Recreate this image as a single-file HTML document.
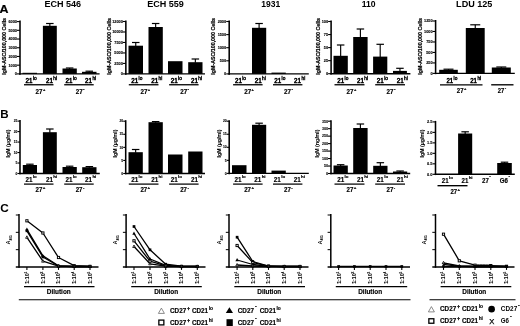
<!DOCTYPE html>
<html><head><meta charset="utf-8"><title>Figure</title>
<style>
html,body{margin:0;padding:0;background:#fff;}
body{width:520px;height:326px;overflow:hidden;}
svg{display:block;font-family:"Liberation Sans", sans-serif;fill:#000;filter:blur(0.3px);}
svg text{font-family:"Liberation Sans", sans-serif;}
</style></head><body>
<svg width="520" height="326" viewBox="0 0 520 326">
<rect x="0" y="0" width="520" height="326" fill="#fff"/>
<rect x="22.5" y="72.8" width="14.5" height="1.1" fill="#000"/>
<line x1="49.85" y1="23.5" x2="49.85" y2="26.3" stroke="#000" stroke-width="1.15"/>
<line x1="46.1" y1="23.5" x2="53.6" y2="23.5" stroke="#000" stroke-width="1.2"/>
<rect x="42.9" y="25.8" width="13.9" height="48.1" fill="#000"/>
<line x1="69.65" y1="68" x2="69.65" y2="69" stroke="#000" stroke-width="1.15"/>
<line x1="65.9" y1="68" x2="73.4" y2="68" stroke="#000" stroke-width="1.2"/>
<rect x="62.5" y="68.5" width="14.3" height="5.4" fill="#000"/>
<line x1="89.25" y1="71.2" x2="89.25" y2="72.3" stroke="#000" stroke-width="1.15"/>
<line x1="85.5" y1="71.2" x2="93" y2="71.2" stroke="#000" stroke-width="1.2"/>
<rect x="82" y="71.8" width="14.5" height="2.1" fill="#000"/>
<line x1="20" y1="20.6" x2="20" y2="74.68" stroke="#000" stroke-width="1.55"/>
<line x1="19.23" y1="73.9" x2="99.6" y2="73.9" stroke="#000" stroke-width="1.4"/>
<line x1="17" y1="21.6" x2="20" y2="21.6" stroke="#000" stroke-width="1.1"/>
<text x="16.9" y="22.97" font-size="3.8" font-weight="bold" text-anchor="end" stroke="#000" stroke-width="0.12">6000</text>
<line x1="17" y1="30.32" x2="20" y2="30.32" stroke="#000" stroke-width="1.1"/>
<text x="16.9" y="31.68" font-size="3.8" font-weight="bold" text-anchor="end" stroke="#000" stroke-width="0.12">5000</text>
<line x1="17" y1="39.03" x2="20" y2="39.03" stroke="#000" stroke-width="1.1"/>
<text x="16.9" y="40.4" font-size="3.8" font-weight="bold" text-anchor="end" stroke="#000" stroke-width="0.12">4000</text>
<line x1="17" y1="47.75" x2="20" y2="47.75" stroke="#000" stroke-width="1.1"/>
<text x="16.9" y="49.12" font-size="3.8" font-weight="bold" text-anchor="end" stroke="#000" stroke-width="0.12">3000</text>
<line x1="17" y1="56.47" x2="20" y2="56.47" stroke="#000" stroke-width="1.1"/>
<text x="16.9" y="57.83" font-size="3.8" font-weight="bold" text-anchor="end" stroke="#000" stroke-width="0.12">2000</text>
<line x1="17" y1="65.18" x2="20" y2="65.18" stroke="#000" stroke-width="1.1"/>
<text x="16.9" y="66.55" font-size="3.8" font-weight="bold" text-anchor="end" stroke="#000" stroke-width="0.12">1000</text>
<line x1="17" y1="73.9" x2="20" y2="73.9" stroke="#000" stroke-width="1.1"/>
<text x="16.9" y="75.27" font-size="3.8" font-weight="bold" text-anchor="end" stroke="#000" stroke-width="0.12">0</text>
<text x="6.01" y="46.3" font-size="5.3" font-weight="bold" text-anchor="middle" transform="rotate(-90 6.01 46.3)" textLength="56.7" lengthAdjust="spacingAndGlyphs" stroke="#000" stroke-width="0.2">IgM-ASC/100,000 Cells</text>
<text x="62.75" y="7" font-size="8.8" font-weight="bold" text-anchor="middle" textLength="36.7" lengthAdjust="spacingAndGlyphs">ECH 546</text>
<text x="25.5" y="82.9" font-size="6.5" font-weight="normal" text-anchor="start" stroke="#000" stroke-width="0.5" textLength="7" lengthAdjust="spacingAndGlyphs">21</text>
<text x="32.9" y="79.8" font-size="4.8" font-weight="normal" text-anchor="start" stroke="#000" stroke-width="0.36">lo</text>
<text x="45.9" y="82.9" font-size="6.5" font-weight="normal" text-anchor="start" stroke="#000" stroke-width="0.5" textLength="7" lengthAdjust="spacingAndGlyphs">21</text>
<text x="53.3" y="79.8" font-size="4.8" font-weight="normal" text-anchor="start" stroke="#000" stroke-width="0.36">hi</text>
<text x="65.5" y="82.9" font-size="6.5" font-weight="normal" text-anchor="start" stroke="#000" stroke-width="0.5" textLength="7" lengthAdjust="spacingAndGlyphs">21</text>
<text x="72.9" y="79.8" font-size="4.8" font-weight="normal" text-anchor="start" stroke="#000" stroke-width="0.36">lo</text>
<text x="85" y="82.9" font-size="6.5" font-weight="normal" text-anchor="start" stroke="#000" stroke-width="0.5" textLength="7" lengthAdjust="spacingAndGlyphs">21</text>
<text x="92.4" y="79.8" font-size="4.8" font-weight="normal" text-anchor="start" stroke="#000" stroke-width="0.36">hi</text>
<line x1="24" y1="84.75" x2="53.5" y2="84.75" stroke="#000" stroke-width="1.3"/>
<line x1="64.2" y1="84.75" x2="93.7" y2="84.75" stroke="#000" stroke-width="1.3"/>
<text x="35.5" y="93.8" font-size="6.7" font-weight="bold" text-anchor="start" stroke="#000" stroke-width="0.18" textLength="7" lengthAdjust="spacingAndGlyphs">27</text>
<text x="42.9" y="90.6" font-size="4.0" font-weight="bold" text-anchor="start" stroke="#000" stroke-width="0.2">+</text>
<text x="75.7" y="93.8" font-size="6.7" font-weight="bold" text-anchor="start" stroke="#000" stroke-width="0.18" textLength="7" lengthAdjust="spacingAndGlyphs">27</text>
<text x="83.1" y="91" font-size="4.6" font-weight="bold" text-anchor="start" stroke="#000" stroke-width="0.2">-</text>
<line x1="135.75" y1="42.5" x2="135.75" y2="46.2" stroke="#000" stroke-width="1.15"/>
<line x1="132" y1="42.5" x2="139.5" y2="42.5" stroke="#000" stroke-width="1.2"/>
<rect x="128.5" y="45.7" width="14.5" height="28.2" fill="#000"/>
<line x1="155.65" y1="23.5" x2="155.65" y2="27.5" stroke="#000" stroke-width="1.15"/>
<line x1="151.9" y1="23.5" x2="159.4" y2="23.5" stroke="#000" stroke-width="1.2"/>
<rect x="148.5" y="27" width="14.3" height="46.9" fill="#000"/>
<rect x="168" y="61.2" width="14.5" height="12.7" fill="#000"/>
<line x1="195.35" y1="59" x2="195.35" y2="62.7" stroke="#000" stroke-width="1.15"/>
<line x1="191.6" y1="59" x2="199.1" y2="59" stroke="#000" stroke-width="1.2"/>
<rect x="188.2" y="62.2" width="14.3" height="11.7" fill="#000"/>
<line x1="125.85" y1="20.5" x2="125.85" y2="74.68" stroke="#000" stroke-width="1.55"/>
<line x1="125.07" y1="73.9" x2="205" y2="73.9" stroke="#000" stroke-width="1.4"/>
<line x1="122.85" y1="21.5" x2="125.85" y2="21.5" stroke="#000" stroke-width="1.1"/>
<text x="122.75" y="22.87" font-size="3.8" font-weight="bold" text-anchor="end" stroke="#000" stroke-width="0.12">12000</text>
<line x1="122.85" y1="31.98" x2="125.85" y2="31.98" stroke="#000" stroke-width="1.1"/>
<text x="122.75" y="33.35" font-size="3.8" font-weight="bold" text-anchor="end" stroke="#000" stroke-width="0.12">10000</text>
<line x1="122.85" y1="42.46" x2="125.85" y2="42.46" stroke="#000" stroke-width="1.1"/>
<text x="122.75" y="43.83" font-size="3.8" font-weight="bold" text-anchor="end" stroke="#000" stroke-width="0.12">7500</text>
<line x1="122.85" y1="52.94" x2="125.85" y2="52.94" stroke="#000" stroke-width="1.1"/>
<text x="122.75" y="54.31" font-size="3.8" font-weight="bold" text-anchor="end" stroke="#000" stroke-width="0.12">5000</text>
<line x1="122.85" y1="63.42" x2="125.85" y2="63.42" stroke="#000" stroke-width="1.1"/>
<text x="122.75" y="64.79" font-size="3.8" font-weight="bold" text-anchor="end" stroke="#000" stroke-width="0.12">2500</text>
<line x1="122.85" y1="73.9" x2="125.85" y2="73.9" stroke="#000" stroke-width="1.1"/>
<text x="122.75" y="75.27" font-size="3.8" font-weight="bold" text-anchor="end" stroke="#000" stroke-width="0.12">0</text>
<text x="110.91" y="46.3" font-size="5.3" font-weight="bold" text-anchor="middle" transform="rotate(-90 110.91 46.3)" textLength="56.7" lengthAdjust="spacingAndGlyphs" stroke="#000" stroke-width="0.2">IgM-ASC/100,000 Cells</text>
<text x="165.55" y="7" font-size="8.8" font-weight="bold" text-anchor="middle" textLength="36.7" lengthAdjust="spacingAndGlyphs">ECH 559</text>
<text x="131.2" y="82.9" font-size="6.5" font-weight="normal" text-anchor="start" stroke="#000" stroke-width="0.5" textLength="7" lengthAdjust="spacingAndGlyphs">21</text>
<text x="138.6" y="79.8" font-size="4.8" font-weight="normal" text-anchor="start" stroke="#000" stroke-width="0.36">lo</text>
<text x="151.2" y="82.9" font-size="6.5" font-weight="normal" text-anchor="start" stroke="#000" stroke-width="0.5" textLength="7" lengthAdjust="spacingAndGlyphs">21</text>
<text x="158.6" y="79.8" font-size="4.8" font-weight="normal" text-anchor="start" stroke="#000" stroke-width="0.36">hi</text>
<text x="170.7" y="82.9" font-size="6.5" font-weight="normal" text-anchor="start" stroke="#000" stroke-width="0.5" textLength="7" lengthAdjust="spacingAndGlyphs">21</text>
<text x="178.1" y="79.8" font-size="4.8" font-weight="normal" text-anchor="start" stroke="#000" stroke-width="0.36">lo</text>
<text x="190.9" y="82.9" font-size="6.5" font-weight="normal" text-anchor="start" stroke="#000" stroke-width="0.5" textLength="7" lengthAdjust="spacingAndGlyphs">21</text>
<text x="198.3" y="79.8" font-size="4.8" font-weight="normal" text-anchor="start" stroke="#000" stroke-width="0.36">hi</text>
<line x1="128.8" y1="84.75" x2="158.5" y2="84.75" stroke="#000" stroke-width="1.3"/>
<line x1="169.1" y1="84.75" x2="198.6" y2="84.75" stroke="#000" stroke-width="1.3"/>
<text x="140.4" y="93.8" font-size="6.7" font-weight="bold" text-anchor="start" stroke="#000" stroke-width="0.18" textLength="7" lengthAdjust="spacingAndGlyphs">27</text>
<text x="147.8" y="90.6" font-size="4.0" font-weight="bold" text-anchor="start" stroke="#000" stroke-width="0.2">+</text>
<text x="180.2" y="93.8" font-size="6.7" font-weight="bold" text-anchor="start" stroke="#000" stroke-width="0.18" textLength="7" lengthAdjust="spacingAndGlyphs">27</text>
<text x="187.6" y="91" font-size="4.6" font-weight="bold" text-anchor="start" stroke="#000" stroke-width="0.2">-</text>
<line x1="259.1" y1="23.5" x2="259.1" y2="28.3" stroke="#000" stroke-width="1.15"/>
<line x1="255.35" y1="23.5" x2="262.85" y2="23.5" stroke="#000" stroke-width="1.2"/>
<rect x="252" y="27.8" width="14.2" height="46.1" fill="#000"/>
<rect x="271.5" y="72.6" width="14.3" height="1.3" fill="#000"/>
<line x1="229.2" y1="20.5" x2="229.2" y2="74.68" stroke="#000" stroke-width="1.55"/>
<line x1="228.42" y1="73.9" x2="308.8" y2="73.9" stroke="#000" stroke-width="1.4"/>
<line x1="226.2" y1="21.5" x2="229.2" y2="21.5" stroke="#000" stroke-width="1.1"/>
<text x="226.1" y="22.87" font-size="3.8" font-weight="bold" text-anchor="end" stroke="#000" stroke-width="0.12">2000</text>
<line x1="226.2" y1="34.6" x2="229.2" y2="34.6" stroke="#000" stroke-width="1.1"/>
<text x="226.1" y="35.97" font-size="3.8" font-weight="bold" text-anchor="end" stroke="#000" stroke-width="0.12">1500</text>
<line x1="226.2" y1="47.7" x2="229.2" y2="47.7" stroke="#000" stroke-width="1.1"/>
<text x="226.1" y="49.07" font-size="3.8" font-weight="bold" text-anchor="end" stroke="#000" stroke-width="0.12">1000</text>
<line x1="226.2" y1="60.8" x2="229.2" y2="60.8" stroke="#000" stroke-width="1.1"/>
<text x="226.1" y="62.17" font-size="3.8" font-weight="bold" text-anchor="end" stroke="#000" stroke-width="0.12">500</text>
<line x1="226.2" y1="73.9" x2="229.2" y2="73.9" stroke="#000" stroke-width="1.1"/>
<text x="226.1" y="75.27" font-size="3.8" font-weight="bold" text-anchor="end" stroke="#000" stroke-width="0.12">0</text>
<text x="215.11" y="46.3" font-size="5.3" font-weight="bold" text-anchor="middle" transform="rotate(-90 215.11 46.3)" textLength="56.7" lengthAdjust="spacingAndGlyphs" stroke="#000" stroke-width="0.2">IgM-ASC/100,000 Cells</text>
<text x="270.8" y="7" font-size="8.8" font-weight="bold" text-anchor="middle" textLength="19" lengthAdjust="spacingAndGlyphs">1931</text>
<text x="234.9" y="82.9" font-size="6.5" font-weight="normal" text-anchor="start" stroke="#000" stroke-width="0.5" textLength="7" lengthAdjust="spacingAndGlyphs">21</text>
<text x="242.3" y="79.8" font-size="4.8" font-weight="normal" text-anchor="start" stroke="#000" stroke-width="0.36">lo</text>
<text x="254.7" y="82.9" font-size="6.5" font-weight="normal" text-anchor="start" stroke="#000" stroke-width="0.5" textLength="7" lengthAdjust="spacingAndGlyphs">21</text>
<text x="262.1" y="79.8" font-size="4.8" font-weight="normal" text-anchor="start" stroke="#000" stroke-width="0.36">hi</text>
<text x="274.2" y="82.9" font-size="6.5" font-weight="normal" text-anchor="start" stroke="#000" stroke-width="0.5" textLength="7" lengthAdjust="spacingAndGlyphs">21</text>
<text x="281.6" y="79.8" font-size="4.8" font-weight="normal" text-anchor="start" stroke="#000" stroke-width="0.36">lo</text>
<text x="294.1" y="82.9" font-size="6.5" font-weight="normal" text-anchor="start" stroke="#000" stroke-width="0.5" textLength="7" lengthAdjust="spacingAndGlyphs">21</text>
<text x="301.5" y="79.8" font-size="4.8" font-weight="normal" text-anchor="start" stroke="#000" stroke-width="0.36">hi</text>
<line x1="233.1" y1="84.75" x2="262.6" y2="84.75" stroke="#000" stroke-width="1.3"/>
<line x1="273" y1="84.75" x2="302.4" y2="84.75" stroke="#000" stroke-width="1.3"/>
<text x="244.2" y="93.8" font-size="6.7" font-weight="bold" text-anchor="start" stroke="#000" stroke-width="0.18" textLength="7" lengthAdjust="spacingAndGlyphs">27</text>
<text x="251.6" y="90.6" font-size="4.0" font-weight="bold" text-anchor="start" stroke="#000" stroke-width="0.2">+</text>
<text x="284" y="93.8" font-size="6.7" font-weight="bold" text-anchor="start" stroke="#000" stroke-width="0.18" textLength="7" lengthAdjust="spacingAndGlyphs">27</text>
<text x="291.4" y="91" font-size="4.6" font-weight="bold" text-anchor="start" stroke="#000" stroke-width="0.2">-</text>
<line x1="340.65" y1="45" x2="340.65" y2="56.3" stroke="#000" stroke-width="1.15"/>
<line x1="336.9" y1="45" x2="344.4" y2="45" stroke="#000" stroke-width="1.2"/>
<rect x="333.5" y="55.8" width="14.3" height="17.9" fill="#000"/>
<line x1="360.4" y1="29" x2="360.4" y2="37.5" stroke="#000" stroke-width="1.15"/>
<line x1="356.65" y1="29" x2="364.15" y2="29" stroke="#000" stroke-width="1.2"/>
<rect x="353.2" y="37" width="14.4" height="36.7" fill="#000"/>
<line x1="380.2" y1="44.3" x2="380.2" y2="57.1" stroke="#000" stroke-width="1.15"/>
<line x1="376.45" y1="44.3" x2="383.95" y2="44.3" stroke="#000" stroke-width="1.2"/>
<rect x="373.1" y="56.6" width="14.2" height="17.1" fill="#000"/>
<line x1="399.95" y1="68.3" x2="399.95" y2="71.4" stroke="#000" stroke-width="1.15"/>
<line x1="396.2" y1="68.3" x2="403.7" y2="68.3" stroke="#000" stroke-width="1.2"/>
<rect x="393" y="70.9" width="13.9" height="2.8" fill="#000"/>
<line x1="331.1" y1="20.5" x2="331.1" y2="74.48" stroke="#000" stroke-width="1.55"/>
<line x1="330.33" y1="73.7" x2="410.4" y2="73.7" stroke="#000" stroke-width="1.4"/>
<line x1="328.1" y1="21.5" x2="331.1" y2="21.5" stroke="#000" stroke-width="1.1"/>
<text x="328" y="22.87" font-size="3.8" font-weight="bold" text-anchor="end" stroke="#000" stroke-width="0.12">100</text>
<line x1="328.1" y1="34.55" x2="331.1" y2="34.55" stroke="#000" stroke-width="1.1"/>
<text x="328" y="35.92" font-size="3.8" font-weight="bold" text-anchor="end" stroke="#000" stroke-width="0.12">75</text>
<line x1="328.1" y1="47.6" x2="331.1" y2="47.6" stroke="#000" stroke-width="1.1"/>
<text x="328" y="48.97" font-size="3.8" font-weight="bold" text-anchor="end" stroke="#000" stroke-width="0.12">50</text>
<line x1="328.1" y1="60.65" x2="331.1" y2="60.65" stroke="#000" stroke-width="1.1"/>
<text x="328" y="62.02" font-size="3.8" font-weight="bold" text-anchor="end" stroke="#000" stroke-width="0.12">25</text>
<line x1="328.1" y1="73.7" x2="331.1" y2="73.7" stroke="#000" stroke-width="1.1"/>
<text x="328" y="75.07" font-size="3.8" font-weight="bold" text-anchor="end" stroke="#000" stroke-width="0.12">0</text>
<text x="319.91" y="46.3" font-size="5.3" font-weight="bold" text-anchor="middle" transform="rotate(-90 319.91 46.3)" textLength="56.7" lengthAdjust="spacingAndGlyphs" stroke="#000" stroke-width="0.2">IgM-ASC/100,000 Cells</text>
<text x="368.7" y="7" font-size="8.8" font-weight="bold" text-anchor="middle" textLength="13.9" lengthAdjust="spacingAndGlyphs">110</text>
<text x="337.2" y="82.9" font-size="6.5" font-weight="normal" text-anchor="start" stroke="#000" stroke-width="0.5" textLength="7" lengthAdjust="spacingAndGlyphs">21</text>
<text x="344.6" y="79.8" font-size="4.8" font-weight="normal" text-anchor="start" stroke="#000" stroke-width="0.36">lo</text>
<text x="356.9" y="82.9" font-size="6.5" font-weight="normal" text-anchor="start" stroke="#000" stroke-width="0.5" textLength="7" lengthAdjust="spacingAndGlyphs">21</text>
<text x="364.3" y="79.8" font-size="4.8" font-weight="normal" text-anchor="start" stroke="#000" stroke-width="0.36">hi</text>
<text x="376.8" y="82.9" font-size="6.5" font-weight="normal" text-anchor="start" stroke="#000" stroke-width="0.5" textLength="7" lengthAdjust="spacingAndGlyphs">21</text>
<text x="384.2" y="79.8" font-size="4.8" font-weight="normal" text-anchor="start" stroke="#000" stroke-width="0.36">lo</text>
<text x="396.7" y="82.9" font-size="6.5" font-weight="normal" text-anchor="start" stroke="#000" stroke-width="0.5" textLength="7" lengthAdjust="spacingAndGlyphs">21</text>
<text x="404.1" y="79.8" font-size="4.8" font-weight="normal" text-anchor="start" stroke="#000" stroke-width="0.36">hi</text>
<line x1="334.5" y1="84.75" x2="364.5" y2="84.75" stroke="#000" stroke-width="1.3"/>
<line x1="375.2" y1="84.75" x2="405" y2="84.75" stroke="#000" stroke-width="1.3"/>
<text x="346.5" y="93.8" font-size="6.7" font-weight="bold" text-anchor="start" stroke="#000" stroke-width="0.18" textLength="7" lengthAdjust="spacingAndGlyphs">27</text>
<text x="353.9" y="90.6" font-size="4.0" font-weight="bold" text-anchor="start" stroke="#000" stroke-width="0.2">+</text>
<text x="386.5" y="93.8" font-size="6.7" font-weight="bold" text-anchor="start" stroke="#000" stroke-width="0.18" textLength="7" lengthAdjust="spacingAndGlyphs">27</text>
<text x="393.9" y="91" font-size="4.6" font-weight="bold" text-anchor="start" stroke="#000" stroke-width="0.2">-</text>
<line x1="448.5" y1="69.2" x2="448.5" y2="70.3" stroke="#000" stroke-width="1.15"/>
<line x1="443.5" y1="69.2" x2="453.5" y2="69.2" stroke="#000" stroke-width="1.2"/>
<rect x="439.2" y="69.8" width="18.6" height="3.6" fill="#000"/>
<line x1="475.25" y1="24.8" x2="475.25" y2="28.5" stroke="#000" stroke-width="1.15"/>
<line x1="470.25" y1="24.8" x2="480.25" y2="24.8" stroke="#000" stroke-width="1.2"/>
<rect x="465.8" y="28" width="18.9" height="45.4" fill="#000"/>
<line x1="501.3" y1="67" x2="501.3" y2="68" stroke="#000" stroke-width="1.15"/>
<line x1="496.3" y1="67" x2="506.3" y2="67" stroke="#000" stroke-width="1.2"/>
<rect x="491.8" y="67.5" width="19" height="5.9" fill="#000"/>
<line x1="435.6" y1="20" x2="435.6" y2="74.18" stroke="#000" stroke-width="1.55"/>
<line x1="434.83" y1="73.4" x2="514.8" y2="73.4" stroke="#000" stroke-width="1.4"/>
<line x1="432.6" y1="21" x2="435.6" y2="21" stroke="#000" stroke-width="1.1"/>
<text x="432.5" y="22.37" font-size="3.8" font-weight="bold" text-anchor="end" stroke="#000" stroke-width="0.12">1250</text>
<line x1="432.6" y1="31.48" x2="435.6" y2="31.48" stroke="#000" stroke-width="1.1"/>
<text x="432.5" y="32.85" font-size="3.8" font-weight="bold" text-anchor="end" stroke="#000" stroke-width="0.12">1000</text>
<line x1="432.6" y1="41.96" x2="435.6" y2="41.96" stroke="#000" stroke-width="1.1"/>
<text x="432.5" y="43.33" font-size="3.8" font-weight="bold" text-anchor="end" stroke="#000" stroke-width="0.12">750</text>
<line x1="432.6" y1="52.44" x2="435.6" y2="52.44" stroke="#000" stroke-width="1.1"/>
<text x="432.5" y="53.81" font-size="3.8" font-weight="bold" text-anchor="end" stroke="#000" stroke-width="0.12">500</text>
<line x1="432.6" y1="62.92" x2="435.6" y2="62.92" stroke="#000" stroke-width="1.1"/>
<text x="432.5" y="64.29" font-size="3.8" font-weight="bold" text-anchor="end" stroke="#000" stroke-width="0.12">250</text>
<line x1="432.6" y1="73.4" x2="435.6" y2="73.4" stroke="#000" stroke-width="1.1"/>
<text x="432.5" y="74.77" font-size="3.8" font-weight="bold" text-anchor="end" stroke="#000" stroke-width="0.12">0</text>
<text x="422.41" y="46.3" font-size="5.3" font-weight="bold" text-anchor="middle" transform="rotate(-90 422.41 46.3)" textLength="56.7" lengthAdjust="spacingAndGlyphs" stroke="#000" stroke-width="0.2">IgM-ASC/100,000 Cells</text>
<text x="474.25" y="7" font-size="8.8" font-weight="bold" text-anchor="middle" textLength="36.3" lengthAdjust="spacingAndGlyphs">LDU 125</text>
<text x="446.5" y="82.6" font-size="6.5" font-weight="normal" text-anchor="start" stroke="#000" stroke-width="0.5" textLength="6.7" lengthAdjust="spacingAndGlyphs">21</text>
<text x="453.6" y="79.5" font-size="4.8" font-weight="normal" text-anchor="start" stroke="#000" stroke-width="0.36">lo</text>
<text x="470.2" y="82.6" font-size="6.5" font-weight="normal" text-anchor="start" stroke="#000" stroke-width="0.5" textLength="6.8" lengthAdjust="spacingAndGlyphs">21</text>
<text x="477.4" y="79.5" font-size="4.8" font-weight="normal" text-anchor="start" stroke="#000" stroke-width="0.36">hi</text>
<line x1="440" y1="84.8" x2="482.5" y2="84.8" stroke="#000" stroke-width="1.35"/>
<line x1="491.2" y1="84.8" x2="513.5" y2="84.8" stroke="#000" stroke-width="1.35"/>
<text x="456.8" y="93.1" font-size="6.7" font-weight="bold" text-anchor="start" stroke="#000" stroke-width="0.18" textLength="6.8" lengthAdjust="spacingAndGlyphs">27</text>
<text x="464" y="89.9" font-size="4.0" font-weight="bold" text-anchor="start" stroke="#000" stroke-width="0.2">+</text>
<text x="497.8" y="93.1" font-size="6.7" font-weight="bold" text-anchor="start" stroke="#000" stroke-width="0.18" textLength="6.5" lengthAdjust="spacingAndGlyphs">27</text>
<text x="504.7" y="88.5" font-size="4.4" font-weight="bold" text-anchor="start" stroke="#000" stroke-width="0.2">-</text>
<line x1="29.9" y1="164.2" x2="29.9" y2="165.5" stroke="#000" stroke-width="1.15"/>
<line x1="26.15" y1="164.2" x2="33.65" y2="164.2" stroke="#000" stroke-width="1.2"/>
<rect x="22.8" y="165" width="14.2" height="8.5" fill="#000"/>
<line x1="49.85" y1="129" x2="49.85" y2="132.7" stroke="#000" stroke-width="1.15"/>
<line x1="46.1" y1="129" x2="53.6" y2="129" stroke="#000" stroke-width="1.2"/>
<rect x="42.9" y="132.2" width="13.9" height="41.3" fill="#000"/>
<line x1="69.65" y1="166.2" x2="69.65" y2="167.5" stroke="#000" stroke-width="1.15"/>
<line x1="65.9" y1="166.2" x2="73.4" y2="166.2" stroke="#000" stroke-width="1.2"/>
<rect x="62.5" y="167" width="14.3" height="6.5" fill="#000"/>
<line x1="89.35" y1="166.6" x2="89.35" y2="167.7" stroke="#000" stroke-width="1.15"/>
<line x1="85.6" y1="166.6" x2="93.1" y2="166.6" stroke="#000" stroke-width="1.2"/>
<rect x="82.2" y="167.2" width="14.3" height="6.3" fill="#000"/>
<line x1="20" y1="120.1" x2="20" y2="174.28" stroke="#000" stroke-width="1.55"/>
<line x1="19.23" y1="173.5" x2="99.8" y2="173.5" stroke="#000" stroke-width="1.4"/>
<line x1="17.5" y1="121.1" x2="20" y2="121.1" stroke="#000" stroke-width="1.1"/>
<text x="17.4" y="122.29" font-size="3.3" font-weight="bold" text-anchor="end" stroke="#000" stroke-width="0.08">25</text>
<line x1="17.5" y1="131.58" x2="20" y2="131.58" stroke="#000" stroke-width="1.1"/>
<text x="17.4" y="132.77" font-size="3.3" font-weight="bold" text-anchor="end" stroke="#000" stroke-width="0.08">20</text>
<line x1="17.5" y1="142.06" x2="20" y2="142.06" stroke="#000" stroke-width="1.1"/>
<text x="17.4" y="143.25" font-size="3.3" font-weight="bold" text-anchor="end" stroke="#000" stroke-width="0.08">15</text>
<line x1="17.5" y1="152.54" x2="20" y2="152.54" stroke="#000" stroke-width="1.1"/>
<text x="17.4" y="153.73" font-size="3.3" font-weight="bold" text-anchor="end" stroke="#000" stroke-width="0.08">10</text>
<line x1="17.5" y1="163.02" x2="20" y2="163.02" stroke="#000" stroke-width="1.1"/>
<text x="17.4" y="164.21" font-size="3.3" font-weight="bold" text-anchor="end" stroke="#000" stroke-width="0.08">5</text>
<line x1="17.5" y1="173.5" x2="20" y2="173.5" stroke="#000" stroke-width="1.1"/>
<text x="17.4" y="174.69" font-size="3.3" font-weight="bold" text-anchor="end" stroke="#000" stroke-width="0.08">0</text>
<text x="10.19" y="143.5" font-size="4.7" font-weight="bold" text-anchor="middle" transform="rotate(-90 10.19 143.5)" textLength="28" lengthAdjust="spacingAndGlyphs" stroke="#000" stroke-width="0.05">IgM (µg/ml)</text>
<text x="25.5" y="181.9" font-size="6.8" font-weight="bold" text-anchor="start" stroke="#000" stroke-width="0.18" textLength="7" lengthAdjust="spacingAndGlyphs">21</text>
<text x="32.9" y="178.2" font-size="4.4" font-weight="bold" text-anchor="start" stroke="#000" stroke-width="0.2">lo</text>
<text x="45.9" y="181.9" font-size="6.8" font-weight="bold" text-anchor="start" stroke="#000" stroke-width="0.18" textLength="7" lengthAdjust="spacingAndGlyphs">21</text>
<text x="53.3" y="178.2" font-size="4.4" font-weight="bold" text-anchor="start" stroke="#000" stroke-width="0.2">hi</text>
<text x="65.5" y="181.9" font-size="6.8" font-weight="bold" text-anchor="start" stroke="#000" stroke-width="0.18" textLength="7" lengthAdjust="spacingAndGlyphs">21</text>
<text x="72.9" y="178.2" font-size="4.4" font-weight="bold" text-anchor="start" stroke="#000" stroke-width="0.2">lo</text>
<text x="85" y="181.9" font-size="6.8" font-weight="bold" text-anchor="start" stroke="#000" stroke-width="0.18" textLength="7" lengthAdjust="spacingAndGlyphs">21</text>
<text x="92.4" y="178.2" font-size="4.4" font-weight="bold" text-anchor="start" stroke="#000" stroke-width="0.2">hi</text>
<line x1="24" y1="184.1" x2="53.5" y2="184.1" stroke="#000" stroke-width="1.25"/>
<line x1="64.2" y1="184.1" x2="93.7" y2="184.1" stroke="#000" stroke-width="1.25"/>
<text x="35.5" y="192.1" font-size="6.4" font-weight="bold" text-anchor="start" stroke="#000" stroke-width="0.18" textLength="6.8" lengthAdjust="spacingAndGlyphs">27</text>
<text x="42.7" y="188.9" font-size="4.4" font-weight="bold" text-anchor="start" stroke="#000" stroke-width="0.2">+</text>
<text x="75.7" y="192.1" font-size="6.4" font-weight="bold" text-anchor="start" stroke="#000" stroke-width="0.18" textLength="6.8" lengthAdjust="spacingAndGlyphs">27</text>
<text x="82.9" y="188.9" font-size="4.4" font-weight="bold" text-anchor="start" stroke="#000" stroke-width="0.2">-</text>
<line x1="135.65" y1="149.5" x2="135.65" y2="152.7" stroke="#000" stroke-width="1.15"/>
<line x1="131.9" y1="149.5" x2="139.4" y2="149.5" stroke="#000" stroke-width="1.2"/>
<rect x="128.5" y="152.2" width="14.3" height="21.3" fill="#000"/>
<line x1="155.65" y1="121.6" x2="155.65" y2="122.7" stroke="#000" stroke-width="1.15"/>
<line x1="151.9" y1="121.6" x2="159.4" y2="121.6" stroke="#000" stroke-width="1.2"/>
<rect x="148.5" y="122.2" width="14.3" height="51.3" fill="#000"/>
<rect x="168" y="154.5" width="14.5" height="19" fill="#000"/>
<rect x="188.2" y="151.5" width="14.3" height="22" fill="#000"/>
<line x1="125.7" y1="120.2" x2="125.7" y2="174.28" stroke="#000" stroke-width="1.55"/>
<line x1="124.92" y1="173.5" x2="205" y2="173.5" stroke="#000" stroke-width="1.4"/>
<line x1="123.2" y1="121.2" x2="125.7" y2="121.2" stroke="#000" stroke-width="1.1"/>
<text x="123.1" y="122.39" font-size="3.3" font-weight="bold" text-anchor="end" stroke="#000" stroke-width="0.08">20</text>
<line x1="123.2" y1="134.28" x2="125.7" y2="134.28" stroke="#000" stroke-width="1.1"/>
<text x="123.1" y="135.46" font-size="3.3" font-weight="bold" text-anchor="end" stroke="#000" stroke-width="0.08">15</text>
<line x1="123.2" y1="147.35" x2="125.7" y2="147.35" stroke="#000" stroke-width="1.1"/>
<text x="123.1" y="148.54" font-size="3.3" font-weight="bold" text-anchor="end" stroke="#000" stroke-width="0.08">10</text>
<line x1="123.2" y1="160.43" x2="125.7" y2="160.43" stroke="#000" stroke-width="1.1"/>
<text x="123.1" y="161.61" font-size="3.3" font-weight="bold" text-anchor="end" stroke="#000" stroke-width="0.08">5</text>
<line x1="123.2" y1="173.5" x2="125.7" y2="173.5" stroke="#000" stroke-width="1.1"/>
<text x="123.1" y="174.69" font-size="3.3" font-weight="bold" text-anchor="end" stroke="#000" stroke-width="0.08">0</text>
<text x="116.69" y="143.5" font-size="4.7" font-weight="bold" text-anchor="middle" transform="rotate(-90 116.69 143.5)" textLength="28" lengthAdjust="spacingAndGlyphs" stroke="#000" stroke-width="0.05">IgM (µg/ml)</text>
<text x="131.2" y="181.9" font-size="6.8" font-weight="bold" text-anchor="start" stroke="#000" stroke-width="0.18" textLength="7" lengthAdjust="spacingAndGlyphs">21</text>
<text x="138.6" y="178.2" font-size="4.4" font-weight="bold" text-anchor="start" stroke="#000" stroke-width="0.2">lo</text>
<text x="151.2" y="181.9" font-size="6.8" font-weight="bold" text-anchor="start" stroke="#000" stroke-width="0.18" textLength="7" lengthAdjust="spacingAndGlyphs">21</text>
<text x="158.6" y="178.2" font-size="4.4" font-weight="bold" text-anchor="start" stroke="#000" stroke-width="0.2">hi</text>
<text x="170.7" y="181.9" font-size="6.8" font-weight="bold" text-anchor="start" stroke="#000" stroke-width="0.18" textLength="7" lengthAdjust="spacingAndGlyphs">21</text>
<text x="178.1" y="178.2" font-size="4.4" font-weight="bold" text-anchor="start" stroke="#000" stroke-width="0.2">lo</text>
<text x="190.9" y="181.9" font-size="6.8" font-weight="bold" text-anchor="start" stroke="#000" stroke-width="0.18" textLength="7" lengthAdjust="spacingAndGlyphs">21</text>
<text x="198.3" y="178.2" font-size="4.4" font-weight="bold" text-anchor="start" stroke="#000" stroke-width="0.2">hi</text>
<line x1="128.8" y1="184.1" x2="158.5" y2="184.1" stroke="#000" stroke-width="1.25"/>
<line x1="169.1" y1="184.1" x2="198.6" y2="184.1" stroke="#000" stroke-width="1.25"/>
<text x="140.4" y="192.1" font-size="6.4" font-weight="bold" text-anchor="start" stroke="#000" stroke-width="0.18" textLength="6.8" lengthAdjust="spacingAndGlyphs">27</text>
<text x="147.6" y="188.9" font-size="4.4" font-weight="bold" text-anchor="start" stroke="#000" stroke-width="0.2">+</text>
<text x="180.2" y="192.1" font-size="6.4" font-weight="bold" text-anchor="start" stroke="#000" stroke-width="0.18" textLength="6.8" lengthAdjust="spacingAndGlyphs">27</text>
<text x="187.4" y="188.9" font-size="4.4" font-weight="bold" text-anchor="start" stroke="#000" stroke-width="0.2">-</text>
<rect x="232" y="165.2" width="14.5" height="8.2" fill="#000"/>
<line x1="259.1" y1="123.2" x2="259.1" y2="125.3" stroke="#000" stroke-width="1.15"/>
<line x1="255.35" y1="123.2" x2="262.85" y2="123.2" stroke="#000" stroke-width="1.2"/>
<rect x="252" y="124.8" width="14.2" height="48.6" fill="#000"/>
<rect x="271.5" y="170.6" width="14.3" height="2.8" fill="#000"/>
<line x1="229.2" y1="120.2" x2="229.2" y2="174.18" stroke="#000" stroke-width="1.55"/>
<line x1="228.42" y1="173.4" x2="308.8" y2="173.4" stroke="#000" stroke-width="1.4"/>
<line x1="226.7" y1="121.2" x2="229.2" y2="121.2" stroke="#000" stroke-width="1.1"/>
<text x="226.6" y="122.39" font-size="3.3" font-weight="bold" text-anchor="end" stroke="#000" stroke-width="0.08">20</text>
<line x1="226.7" y1="134.25" x2="229.2" y2="134.25" stroke="#000" stroke-width="1.1"/>
<text x="226.6" y="135.44" font-size="3.3" font-weight="bold" text-anchor="end" stroke="#000" stroke-width="0.08">15</text>
<line x1="226.7" y1="147.3" x2="229.2" y2="147.3" stroke="#000" stroke-width="1.1"/>
<text x="226.6" y="148.49" font-size="3.3" font-weight="bold" text-anchor="end" stroke="#000" stroke-width="0.08">10</text>
<line x1="226.7" y1="160.35" x2="229.2" y2="160.35" stroke="#000" stroke-width="1.1"/>
<text x="226.6" y="161.54" font-size="3.3" font-weight="bold" text-anchor="end" stroke="#000" stroke-width="0.08">5</text>
<line x1="226.7" y1="173.4" x2="229.2" y2="173.4" stroke="#000" stroke-width="1.1"/>
<text x="226.6" y="174.59" font-size="3.3" font-weight="bold" text-anchor="end" stroke="#000" stroke-width="0.08">0</text>
<text x="220.69" y="143.5" font-size="4.7" font-weight="bold" text-anchor="middle" transform="rotate(-90 220.69 143.5)" textLength="28" lengthAdjust="spacingAndGlyphs" stroke="#000" stroke-width="0.05">IgM (µg/ml)</text>
<text x="234.5" y="181.9" font-size="6.8" font-weight="bold" text-anchor="start" stroke="#000" stroke-width="0.18" textLength="7" lengthAdjust="spacingAndGlyphs">21</text>
<text x="241.9" y="178.2" font-size="4.4" font-weight="bold" text-anchor="start" stroke="#000" stroke-width="0.2">lo</text>
<text x="254.3" y="181.9" font-size="6.8" font-weight="bold" text-anchor="start" stroke="#000" stroke-width="0.18" textLength="7" lengthAdjust="spacingAndGlyphs">21</text>
<text x="261.7" y="178.2" font-size="4.4" font-weight="bold" text-anchor="start" stroke="#000" stroke-width="0.2">hi</text>
<text x="273.8" y="181.9" font-size="6.8" font-weight="bold" text-anchor="start" stroke="#000" stroke-width="0.18" textLength="7" lengthAdjust="spacingAndGlyphs">21</text>
<text x="281.2" y="178.2" font-size="4.4" font-weight="bold" text-anchor="start" stroke="#000" stroke-width="0.2">lo</text>
<text x="293.7" y="181.9" font-size="6.8" font-weight="bold" text-anchor="start" stroke="#000" stroke-width="0.18" textLength="7" lengthAdjust="spacingAndGlyphs">21</text>
<text x="301.1" y="178.2" font-size="4.4" font-weight="bold" text-anchor="start" stroke="#000" stroke-width="0.2">hi</text>
<line x1="233.1" y1="184.1" x2="262.6" y2="184.1" stroke="#000" stroke-width="1.25"/>
<line x1="273" y1="184.1" x2="302.4" y2="184.1" stroke="#000" stroke-width="1.25"/>
<text x="244.2" y="192.1" font-size="6.4" font-weight="bold" text-anchor="start" stroke="#000" stroke-width="0.18" textLength="6.8" lengthAdjust="spacingAndGlyphs">27</text>
<text x="251.4" y="188.9" font-size="4.4" font-weight="bold" text-anchor="start" stroke="#000" stroke-width="0.2">+</text>
<text x="284" y="192.1" font-size="6.4" font-weight="bold" text-anchor="start" stroke="#000" stroke-width="0.18" textLength="6.8" lengthAdjust="spacingAndGlyphs">27</text>
<text x="291.2" y="188.9" font-size="4.4" font-weight="bold" text-anchor="start" stroke="#000" stroke-width="0.2">-</text>
<line x1="340.65" y1="164.7" x2="340.65" y2="166" stroke="#000" stroke-width="1.15"/>
<line x1="336.9" y1="164.7" x2="344.4" y2="164.7" stroke="#000" stroke-width="1.2"/>
<rect x="333.5" y="165.5" width="14.3" height="8" fill="#000"/>
<line x1="360.4" y1="124" x2="360.4" y2="128.5" stroke="#000" stroke-width="1.15"/>
<line x1="356.65" y1="124" x2="364.15" y2="124" stroke="#000" stroke-width="1.2"/>
<rect x="353.2" y="128" width="14.4" height="45.5" fill="#000"/>
<line x1="380.35" y1="162.7" x2="380.35" y2="166.3" stroke="#000" stroke-width="1.15"/>
<line x1="376.6" y1="162.7" x2="384.1" y2="162.7" stroke="#000" stroke-width="1.2"/>
<rect x="373.2" y="165.8" width="14.3" height="7.7" fill="#000"/>
<line x1="400.1" y1="171" x2="400.1" y2="172" stroke="#000" stroke-width="1.15"/>
<line x1="396.35" y1="171" x2="403.85" y2="171" stroke="#000" stroke-width="1.2"/>
<rect x="393" y="171.5" width="14.2" height="2" fill="#000"/>
<line x1="331" y1="120.2" x2="331" y2="174.28" stroke="#000" stroke-width="1.55"/>
<line x1="330.23" y1="173.5" x2="410.2" y2="173.5" stroke="#000" stroke-width="1.4"/>
<line x1="328" y1="121.2" x2="331" y2="121.2" stroke="#000" stroke-width="1.1"/>
<text x="327.9" y="122.5" font-size="3.6" font-weight="bold" text-anchor="end" stroke="#000" stroke-width="0.08">350</text>
<line x1="328" y1="128.67" x2="331" y2="128.67" stroke="#000" stroke-width="1.1"/>
<text x="327.9" y="129.97" font-size="3.6" font-weight="bold" text-anchor="end" stroke="#000" stroke-width="0.08">300</text>
<line x1="328" y1="136.14" x2="331" y2="136.14" stroke="#000" stroke-width="1.1"/>
<text x="327.9" y="137.44" font-size="3.6" font-weight="bold" text-anchor="end" stroke="#000" stroke-width="0.08">250</text>
<line x1="328" y1="143.61" x2="331" y2="143.61" stroke="#000" stroke-width="1.1"/>
<text x="327.9" y="144.91" font-size="3.6" font-weight="bold" text-anchor="end" stroke="#000" stroke-width="0.08">200</text>
<line x1="328" y1="151.09" x2="331" y2="151.09" stroke="#000" stroke-width="1.1"/>
<text x="327.9" y="152.38" font-size="3.6" font-weight="bold" text-anchor="end" stroke="#000" stroke-width="0.08">150</text>
<line x1="328" y1="158.56" x2="331" y2="158.56" stroke="#000" stroke-width="1.1"/>
<text x="327.9" y="159.85" font-size="3.6" font-weight="bold" text-anchor="end" stroke="#000" stroke-width="0.08">100</text>
<line x1="328" y1="166.03" x2="331" y2="166.03" stroke="#000" stroke-width="1.1"/>
<text x="327.9" y="167.32" font-size="3.6" font-weight="bold" text-anchor="end" stroke="#000" stroke-width="0.08">50</text>
<line x1="328" y1="173.5" x2="331" y2="173.5" stroke="#000" stroke-width="1.1"/>
<text x="327.9" y="174.8" font-size="3.6" font-weight="bold" text-anchor="end" stroke="#000" stroke-width="0.08">0</text>
<text x="318.69" y="143.5" font-size="4.7" font-weight="bold" text-anchor="middle" transform="rotate(-90 318.69 143.5)" textLength="28" lengthAdjust="spacingAndGlyphs" stroke="#000" stroke-width="0.05">IgM (ng/ml)</text>
<text x="337.2" y="181.9" font-size="6.8" font-weight="bold" text-anchor="start" stroke="#000" stroke-width="0.18" textLength="7" lengthAdjust="spacingAndGlyphs">21</text>
<text x="344.6" y="178.2" font-size="4.4" font-weight="bold" text-anchor="start" stroke="#000" stroke-width="0.2">lo</text>
<text x="356.9" y="181.9" font-size="6.8" font-weight="bold" text-anchor="start" stroke="#000" stroke-width="0.18" textLength="7" lengthAdjust="spacingAndGlyphs">21</text>
<text x="364.3" y="178.2" font-size="4.4" font-weight="bold" text-anchor="start" stroke="#000" stroke-width="0.2">hi</text>
<text x="376.8" y="181.9" font-size="6.8" font-weight="bold" text-anchor="start" stroke="#000" stroke-width="0.18" textLength="7" lengthAdjust="spacingAndGlyphs">21</text>
<text x="384.2" y="178.2" font-size="4.4" font-weight="bold" text-anchor="start" stroke="#000" stroke-width="0.2">lo</text>
<text x="396.7" y="181.9" font-size="6.8" font-weight="bold" text-anchor="start" stroke="#000" stroke-width="0.18" textLength="7" lengthAdjust="spacingAndGlyphs">21</text>
<text x="404.1" y="178.2" font-size="4.4" font-weight="bold" text-anchor="start" stroke="#000" stroke-width="0.2">hi</text>
<line x1="334.5" y1="184.1" x2="364.5" y2="184.1" stroke="#000" stroke-width="1.25"/>
<line x1="375.2" y1="184.1" x2="405" y2="184.1" stroke="#000" stroke-width="1.25"/>
<text x="346.5" y="192.1" font-size="6.4" font-weight="bold" text-anchor="start" stroke="#000" stroke-width="0.18" textLength="6.8" lengthAdjust="spacingAndGlyphs">27</text>
<text x="353.7" y="188.9" font-size="4.4" font-weight="bold" text-anchor="start" stroke="#000" stroke-width="0.2">+</text>
<text x="386.5" y="192.1" font-size="6.4" font-weight="bold" text-anchor="start" stroke="#000" stroke-width="0.18" textLength="6.8" lengthAdjust="spacingAndGlyphs">27</text>
<text x="393.7" y="188.9" font-size="4.4" font-weight="bold" text-anchor="start" stroke="#000" stroke-width="0.2">-</text>
<line x1="465.15" y1="131.8" x2="465.15" y2="134" stroke="#000" stroke-width="1.15"/>
<line x1="461.4" y1="131.8" x2="468.9" y2="131.8" stroke="#000" stroke-width="1.2"/>
<rect x="458.1" y="133.5" width="14.1" height="40.8" fill="#000"/>
<line x1="504.5" y1="162.2" x2="504.5" y2="163.5" stroke="#000" stroke-width="1.15"/>
<line x1="500.75" y1="162.2" x2="508.25" y2="162.2" stroke="#000" stroke-width="1.2"/>
<rect x="497.2" y="163" width="14.6" height="11.3" fill="#000"/>
<line x1="435.5" y1="120.9" x2="435.5" y2="175.08" stroke="#000" stroke-width="1.55"/>
<line x1="434.73" y1="174.3" x2="514.8" y2="174.3" stroke="#000" stroke-width="1.4"/>
<line x1="432.5" y1="121.9" x2="435.5" y2="121.9" stroke="#000" stroke-width="1.1"/>
<text x="432.4" y="123.3" font-size="3.9" font-weight="bold" text-anchor="end" stroke="#000" stroke-width="0.1">2.5</text>
<line x1="432.5" y1="132.38" x2="435.5" y2="132.38" stroke="#000" stroke-width="1.1"/>
<text x="432.4" y="133.78" font-size="3.9" font-weight="bold" text-anchor="end" stroke="#000" stroke-width="0.1">2.0</text>
<line x1="432.5" y1="142.86" x2="435.5" y2="142.86" stroke="#000" stroke-width="1.1"/>
<text x="432.4" y="144.26" font-size="3.9" font-weight="bold" text-anchor="end" stroke="#000" stroke-width="0.1">1.5</text>
<line x1="432.5" y1="153.34" x2="435.5" y2="153.34" stroke="#000" stroke-width="1.1"/>
<text x="432.4" y="154.74" font-size="3.9" font-weight="bold" text-anchor="end" stroke="#000" stroke-width="0.1">1.0</text>
<line x1="432.5" y1="163.82" x2="435.5" y2="163.82" stroke="#000" stroke-width="1.1"/>
<text x="432.4" y="165.22" font-size="3.9" font-weight="bold" text-anchor="end" stroke="#000" stroke-width="0.1">0.5</text>
<line x1="432.5" y1="174.3" x2="435.5" y2="174.3" stroke="#000" stroke-width="1.1"/>
<text x="432.4" y="175.7" font-size="3.9" font-weight="bold" text-anchor="end" stroke="#000" stroke-width="0.1">0.0</text>
<text x="424.29" y="143.5" font-size="4.7" font-weight="bold" text-anchor="middle" transform="rotate(-90 424.29 143.5)" textLength="28" lengthAdjust="spacingAndGlyphs" stroke="#000" stroke-width="0.05">IgM (µg/ml)</text>
<text x="441.8" y="183.1" font-size="6.8" font-weight="bold" text-anchor="start" stroke="#000" stroke-width="0.18" textLength="6.8" lengthAdjust="spacingAndGlyphs">21</text>
<text x="449" y="179.4" font-size="4.4" font-weight="bold" text-anchor="start" stroke="#000" stroke-width="0.2">lo</text>
<text x="461.5" y="183.1" font-size="6.8" font-weight="bold" text-anchor="start" stroke="#000" stroke-width="0.18" textLength="6.8" lengthAdjust="spacingAndGlyphs">21</text>
<text x="468.7" y="179.4" font-size="4.4" font-weight="bold" text-anchor="start" stroke="#000" stroke-width="0.2">hi</text>
<text x="482" y="182.9" font-size="6.8" font-weight="bold" text-anchor="start" stroke="#000" stroke-width="0.18" textLength="6.8" lengthAdjust="spacingAndGlyphs">27</text>
<text x="489.2" y="178.3" font-size="4.6" font-weight="bold" text-anchor="start" stroke="#000" stroke-width="0.2">-</text>
<text x="499.8" y="182.9" font-size="6.8" font-weight="bold" text-anchor="start" stroke="#000" stroke-width="0.18" textLength="8.2" lengthAdjust="spacingAndGlyphs">G6</text>
<text x="508.4" y="178.3" font-size="4.6" font-weight="bold" text-anchor="start" stroke="#000" stroke-width="0.2">-</text>
<line x1="437.5" y1="185.7" x2="467.5" y2="185.7" stroke="#000" stroke-width="1.35"/>
<text x="450.5" y="193.9" font-size="6.4" font-weight="bold" text-anchor="start" stroke="#000" stroke-width="0.18" textLength="6.7" lengthAdjust="spacingAndGlyphs">27</text>
<text x="457.6" y="190.7" font-size="4.4" font-weight="bold" text-anchor="start" stroke="#000" stroke-width="0.2">+</text>
<text x="-0.5" y="12.6" font-size="11.3" font-weight="bold" text-anchor="start" textLength="9" lengthAdjust="spacingAndGlyphs" stroke="#000" stroke-width="0.2">A</text>
<text x="0.2" y="118.3" font-size="11.6" font-weight="bold" text-anchor="start">B</text>
<text x="0.2" y="211.7" font-size="11.8" font-weight="bold" text-anchor="start">C</text>
<polyline points="26.9,220.8 42.9,233 58.5,257.5 74.2,265.7 90,266.4" fill="none" stroke="#000" stroke-width="1.3" stroke-linejoin="round"/>
<polyline points="26.9,229.3 42.9,255.8 58.5,265.8 74.2,266.5 90,266.5" fill="none" stroke="#000" stroke-width="1.3" stroke-linejoin="round"/>
<polyline points="26.9,230.8 42.9,257 58.5,266 74.2,266.5 90,266.5" fill="none" stroke="#000" stroke-width="1.3" stroke-linejoin="round"/>
<polyline points="26.9,237.3 42.9,261.2 58.5,266.2 74.2,266.5 90,266.5" fill="none" stroke="#000" stroke-width="1.3" stroke-linejoin="round"/>
<rect x="25.8" y="219.7" width="2.2" height="2.2" fill="#fff" stroke="#000" stroke-width="0.95"/>
<rect x="41.8" y="231.9" width="2.2" height="2.2" fill="#fff" stroke="#000" stroke-width="0.95"/>
<rect x="57.4" y="256.4" width="2.2" height="2.2" fill="#fff" stroke="#000" stroke-width="0.95"/>
<rect x="73.1" y="264.6" width="2.2" height="2.2" fill="#fff" stroke="#000" stroke-width="0.95"/>
<rect x="88.9" y="265.3" width="2.2" height="2.2" fill="#fff" stroke="#000" stroke-width="0.95"/>
<polygon points="26.9,227.4 25.2,230.5 28.6,230.5" fill="#000"/>
<polygon points="42.9,253.9 41.2,257 44.6,257" fill="#000"/>
<polygon points="58.5,263.9 56.8,267 60.2,267" fill="#000"/>
<polygon points="74.2,264.6 72.5,267.7 75.9,267.7" fill="#000"/>
<polygon points="90,264.6 88.3,267.7 91.7,267.7" fill="#000"/>
<rect x="25.55" y="229.45" width="2.7" height="2.7" fill="#000"/>
<rect x="41.55" y="255.65" width="2.7" height="2.7" fill="#000"/>
<rect x="57.15" y="264.65" width="2.7" height="2.7" fill="#000"/>
<rect x="72.85" y="265.15" width="2.7" height="2.7" fill="#000"/>
<rect x="88.65" y="265.15" width="2.7" height="2.7" fill="#000"/>
<polygon points="26.9,235.8 25.6,238.3 28.2,238.3" fill="#ddd" stroke="#000" stroke-width="0.8"/>
<polygon points="42.9,259.7 41.6,262.2 44.2,262.2" fill="#ddd" stroke="#000" stroke-width="0.8"/>
<polygon points="58.5,264.7 57.2,267.2 59.8,267.2" fill="#ddd" stroke="#000" stroke-width="0.8"/>
<polygon points="74.2,265 72.9,267.5 75.5,267.5" fill="#ddd" stroke="#000" stroke-width="0.8"/>
<polygon points="90,265 88.7,267.5 91.3,267.5" fill="#ddd" stroke="#000" stroke-width="0.8"/>
<line x1="19" y1="214" x2="19" y2="267.75" stroke="#000" stroke-width="1.5"/>
<line x1="15.8" y1="267" x2="98.5" y2="267" stroke="#000" stroke-width="1.5"/>
<line x1="15.8" y1="215" x2="19" y2="215" stroke="#000" stroke-width="1.0"/>
<line x1="15.8" y1="232.33" x2="19" y2="232.33" stroke="#000" stroke-width="1.0"/>
<line x1="15.8" y1="249.67" x2="19" y2="249.67" stroke="#000" stroke-width="1.0"/>
<line x1="26.9" y1="267" x2="26.9" y2="269.9" stroke="#000" stroke-width="1.1"/>
<text x="28.9" y="283.8" font-size="5.2" font-weight="bold" text-anchor="start" stroke="#000" stroke-width="0.06" transform="rotate(-90 28.9 283.8)">1:10<tspan font-size="3.2" dy="-2.0">1</tspan></text>
<line x1="42.9" y1="267" x2="42.9" y2="269.9" stroke="#000" stroke-width="1.1"/>
<text x="44.9" y="283.8" font-size="5.2" font-weight="bold" text-anchor="start" stroke="#000" stroke-width="0.06" transform="rotate(-90 44.9 283.8)">1:10<tspan font-size="3.2" dy="-2.0">2</tspan></text>
<line x1="58.5" y1="267" x2="58.5" y2="269.9" stroke="#000" stroke-width="1.1"/>
<text x="60.5" y="283.8" font-size="5.2" font-weight="bold" text-anchor="start" stroke="#000" stroke-width="0.06" transform="rotate(-90 60.5 283.8)">1:10<tspan font-size="3.2" dy="-2.0">3</tspan></text>
<line x1="74.2" y1="267" x2="74.2" y2="269.9" stroke="#000" stroke-width="1.1"/>
<text x="76.2" y="283.8" font-size="5.2" font-weight="bold" text-anchor="start" stroke="#000" stroke-width="0.06" transform="rotate(-90 76.2 283.8)">1:10<tspan font-size="3.2" dy="-2.0">4</tspan></text>
<line x1="90" y1="267" x2="90" y2="269.9" stroke="#000" stroke-width="1.1"/>
<text x="92" y="283.8" font-size="5.2" font-weight="bold" text-anchor="start" stroke="#000" stroke-width="0.06" transform="rotate(-90 92 283.8)">1:10<tspan font-size="3.2" dy="-2.0">5</tspan></text>
<text x="10.1" y="244.3" font-size="5.2" font-weight="bold" text-anchor="start" transform="rotate(-90 10.1 244.3)">A<tspan font-size="3.2" dy="1.6">405</tspan></text>
<line x1="24" y1="286.6" x2="94.5" y2="286.6" stroke="#000" stroke-width="1.15"/>
<text x="46.8" y="294.3" font-size="6.45" font-weight="bold" text-anchor="start" textLength="24" lengthAdjust="spacingAndGlyphs" stroke="#000" stroke-width="0.15">Dilution</text>
<polyline points="134,226.5 150,249.8 165.7,264.2 181.5,266.2 197.3,266.5" fill="none" stroke="#000" stroke-width="1.3" stroke-linejoin="round"/>
<polyline points="134,233.5 150,259 165.7,265.4 181.5,266.5 197.3,266.5" fill="none" stroke="#000" stroke-width="1.3" stroke-linejoin="round"/>
<polyline points="134,240.8 150,261.2 165.7,265.8 181.5,266.5 197.3,266.5" fill="none" stroke="#000" stroke-width="1.3" stroke-linejoin="round"/>
<polyline points="134,246.5 150,263.8 165.7,266.2 181.5,266.5 197.3,266.5" fill="none" stroke="#000" stroke-width="1.3" stroke-linejoin="round"/>
<rect x="132.65" y="225.15" width="2.7" height="2.7" fill="#000"/>
<rect x="148.65" y="248.45" width="2.7" height="2.7" fill="#000"/>
<rect x="164.35" y="262.85" width="2.7" height="2.7" fill="#000"/>
<rect x="180.15" y="264.85" width="2.7" height="2.7" fill="#000"/>
<rect x="195.95" y="265.15" width="2.7" height="2.7" fill="#000"/>
<polygon points="134,231.6 132.3,234.7 135.7,234.7" fill="#000"/>
<polygon points="150,257.1 148.3,260.2 151.7,260.2" fill="#000"/>
<polygon points="165.7,263.5 164,266.6 167.4,266.6" fill="#000"/>
<polygon points="181.5,264.6 179.8,267.7 183.2,267.7" fill="#000"/>
<polygon points="197.3,264.6 195.6,267.7 199,267.7" fill="#000"/>
<rect x="132.9" y="239.7" width="2.2" height="2.2" fill="#fff" stroke="#000" stroke-width="0.95"/>
<rect x="148.9" y="260.1" width="2.2" height="2.2" fill="#fff" stroke="#000" stroke-width="0.95"/>
<rect x="164.6" y="264.7" width="2.2" height="2.2" fill="#fff" stroke="#000" stroke-width="0.95"/>
<rect x="180.4" y="265.4" width="2.2" height="2.2" fill="#fff" stroke="#000" stroke-width="0.95"/>
<rect x="196.2" y="265.4" width="2.2" height="2.2" fill="#fff" stroke="#000" stroke-width="0.95"/>
<polygon points="134,245 132.7,247.5 135.3,247.5" fill="#ddd" stroke="#000" stroke-width="0.8"/>
<polygon points="150,262.3 148.7,264.8 151.3,264.8" fill="#ddd" stroke="#000" stroke-width="0.8"/>
<polygon points="165.7,264.7 164.4,267.2 167,267.2" fill="#ddd" stroke="#000" stroke-width="0.8"/>
<polygon points="181.5,265 180.2,267.5 182.8,267.5" fill="#ddd" stroke="#000" stroke-width="0.8"/>
<polygon points="197.3,265 196,267.5 198.6,267.5" fill="#ddd" stroke="#000" stroke-width="0.8"/>
<line x1="126.1" y1="214" x2="126.1" y2="267.75" stroke="#000" stroke-width="1.5"/>
<line x1="122.9" y1="267" x2="205.5" y2="267" stroke="#000" stroke-width="1.5"/>
<line x1="122.9" y1="215" x2="126.1" y2="215" stroke="#000" stroke-width="1.0"/>
<line x1="122.9" y1="232.33" x2="126.1" y2="232.33" stroke="#000" stroke-width="1.0"/>
<line x1="122.9" y1="249.67" x2="126.1" y2="249.67" stroke="#000" stroke-width="1.0"/>
<line x1="134" y1="267" x2="134" y2="269.9" stroke="#000" stroke-width="1.1"/>
<text x="136" y="283.8" font-size="5.2" font-weight="bold" text-anchor="start" stroke="#000" stroke-width="0.06" transform="rotate(-90 136 283.8)">1:10<tspan font-size="3.2" dy="-2.0">1</tspan></text>
<line x1="150" y1="267" x2="150" y2="269.9" stroke="#000" stroke-width="1.1"/>
<text x="152" y="283.8" font-size="5.2" font-weight="bold" text-anchor="start" stroke="#000" stroke-width="0.06" transform="rotate(-90 152 283.8)">1:10<tspan font-size="3.2" dy="-2.0">2</tspan></text>
<line x1="165.7" y1="267" x2="165.7" y2="269.9" stroke="#000" stroke-width="1.1"/>
<text x="167.7" y="283.8" font-size="5.2" font-weight="bold" text-anchor="start" stroke="#000" stroke-width="0.06" transform="rotate(-90 167.7 283.8)">1:10<tspan font-size="3.2" dy="-2.0">3</tspan></text>
<line x1="181.5" y1="267" x2="181.5" y2="269.9" stroke="#000" stroke-width="1.1"/>
<text x="183.5" y="283.8" font-size="5.2" font-weight="bold" text-anchor="start" stroke="#000" stroke-width="0.06" transform="rotate(-90 183.5 283.8)">1:10<tspan font-size="3.2" dy="-2.0">4</tspan></text>
<line x1="197.3" y1="267" x2="197.3" y2="269.9" stroke="#000" stroke-width="1.1"/>
<text x="199.3" y="283.8" font-size="5.2" font-weight="bold" text-anchor="start" stroke="#000" stroke-width="0.06" transform="rotate(-90 199.3 283.8)">1:10<tspan font-size="3.2" dy="-2.0">5</tspan></text>
<text x="117" y="244.3" font-size="5.2" font-weight="bold" text-anchor="start" transform="rotate(-90 117 244.3)">A<tspan font-size="3.2" dy="1.6">405</tspan></text>
<line x1="131.2" y1="286.6" x2="201.8" y2="286.6" stroke="#000" stroke-width="1.15"/>
<text x="154.2" y="294.3" font-size="6.45" font-weight="bold" text-anchor="start" textLength="24" lengthAdjust="spacingAndGlyphs" stroke="#000" stroke-width="0.15">Dilution</text>
<polyline points="237.1,237.2 252.8,261.5 268.5,266 284.2,266.5 300,266.5" fill="none" stroke="#000" stroke-width="1.3" stroke-linejoin="round"/>
<polyline points="237.1,245.5 252.8,262.6 268.5,266.2 284.2,266.5 300,266.5" fill="none" stroke="#000" stroke-width="1.3" stroke-linejoin="round"/>
<polyline points="237.1,260 252.8,264.5 268.5,266.3 284.2,266.5 300,266.5" fill="none" stroke="#000" stroke-width="1.3" stroke-linejoin="round"/>
<polyline points="237.1,265 252.8,266 268.5,266.5 284.2,266.5 300,266.5" fill="none" stroke="#000" stroke-width="1.3" stroke-linejoin="round"/>
<rect x="235.75" y="235.85" width="2.7" height="2.7" fill="#000"/>
<rect x="251.45" y="260.15" width="2.7" height="2.7" fill="#000"/>
<rect x="267.15" y="264.65" width="2.7" height="2.7" fill="#000"/>
<rect x="282.85" y="265.15" width="2.7" height="2.7" fill="#000"/>
<rect x="298.65" y="265.15" width="2.7" height="2.7" fill="#000"/>
<rect x="236" y="244.4" width="2.2" height="2.2" fill="#fff" stroke="#000" stroke-width="0.95"/>
<rect x="251.7" y="261.5" width="2.2" height="2.2" fill="#fff" stroke="#000" stroke-width="0.95"/>
<rect x="267.4" y="265.1" width="2.2" height="2.2" fill="#fff" stroke="#000" stroke-width="0.95"/>
<rect x="283.1" y="265.4" width="2.2" height="2.2" fill="#fff" stroke="#000" stroke-width="0.95"/>
<rect x="298.9" y="265.4" width="2.2" height="2.2" fill="#fff" stroke="#000" stroke-width="0.95"/>
<polygon points="237.1,258.1 235.4,261.2 238.8,261.2" fill="#000"/>
<polygon points="252.8,262.6 251.1,265.7 254.5,265.7" fill="#000"/>
<polygon points="268.5,264.4 266.8,267.5 270.2,267.5" fill="#000"/>
<polygon points="284.2,264.6 282.5,267.7 285.9,267.7" fill="#000"/>
<polygon points="300,264.6 298.3,267.7 301.7,267.7" fill="#000"/>
<polygon points="237.1,263.5 235.8,266 238.4,266" fill="#ddd" stroke="#000" stroke-width="0.8"/>
<polygon points="252.8,264.5 251.5,267 254.1,267" fill="#ddd" stroke="#000" stroke-width="0.8"/>
<polygon points="268.5,265 267.2,267.5 269.8,267.5" fill="#ddd" stroke="#000" stroke-width="0.8"/>
<polygon points="284.2,265 282.9,267.5 285.5,267.5" fill="#ddd" stroke="#000" stroke-width="0.8"/>
<polygon points="300,265 298.7,267.5 301.3,267.5" fill="#ddd" stroke="#000" stroke-width="0.8"/>
<line x1="229" y1="214" x2="229" y2="267.75" stroke="#000" stroke-width="1.5"/>
<line x1="225.8" y1="267" x2="308.5" y2="267" stroke="#000" stroke-width="1.5"/>
<line x1="225.8" y1="215" x2="229" y2="215" stroke="#000" stroke-width="1.0"/>
<line x1="225.8" y1="232.33" x2="229" y2="232.33" stroke="#000" stroke-width="1.0"/>
<line x1="225.8" y1="249.67" x2="229" y2="249.67" stroke="#000" stroke-width="1.0"/>
<line x1="237.1" y1="267" x2="237.1" y2="269.9" stroke="#000" stroke-width="1.1"/>
<text x="239.1" y="283.8" font-size="5.2" font-weight="bold" text-anchor="start" stroke="#000" stroke-width="0.06" transform="rotate(-90 239.1 283.8)">1:10<tspan font-size="3.2" dy="-2.0">1</tspan></text>
<line x1="252.8" y1="267" x2="252.8" y2="269.9" stroke="#000" stroke-width="1.1"/>
<text x="254.8" y="283.8" font-size="5.2" font-weight="bold" text-anchor="start" stroke="#000" stroke-width="0.06" transform="rotate(-90 254.8 283.8)">1:10<tspan font-size="3.2" dy="-2.0">2</tspan></text>
<line x1="268.5" y1="267" x2="268.5" y2="269.9" stroke="#000" stroke-width="1.1"/>
<text x="270.5" y="283.8" font-size="5.2" font-weight="bold" text-anchor="start" stroke="#000" stroke-width="0.06" transform="rotate(-90 270.5 283.8)">1:10<tspan font-size="3.2" dy="-2.0">3</tspan></text>
<line x1="284.2" y1="267" x2="284.2" y2="269.9" stroke="#000" stroke-width="1.1"/>
<text x="286.2" y="283.8" font-size="5.2" font-weight="bold" text-anchor="start" stroke="#000" stroke-width="0.06" transform="rotate(-90 286.2 283.8)">1:10<tspan font-size="3.2" dy="-2.0">4</tspan></text>
<line x1="300" y1="267" x2="300" y2="269.9" stroke="#000" stroke-width="1.1"/>
<text x="302" y="283.8" font-size="5.2" font-weight="bold" text-anchor="start" stroke="#000" stroke-width="0.06" transform="rotate(-90 302 283.8)">1:10<tspan font-size="3.2" dy="-2.0">5</tspan></text>
<text x="221" y="244.3" font-size="5.2" font-weight="bold" text-anchor="start" transform="rotate(-90 221 244.3)">A<tspan font-size="3.2" dy="1.6">405</tspan></text>
<line x1="234.3" y1="286.6" x2="305" y2="286.6" stroke="#000" stroke-width="1.15"/>
<text x="257.3" y="294.3" font-size="6.45" font-weight="bold" text-anchor="start" textLength="24" lengthAdjust="spacingAndGlyphs" stroke="#000" stroke-width="0.15">Dilution</text>
<polyline points="338.6,266.5 354.4,266.5 370.2,266.5 386,266.5 401.8,266.5" fill="none" stroke="#000" stroke-width="1.3" stroke-linejoin="round"/>
<rect x="337.25" y="265.15" width="2.7" height="2.7" fill="#000"/>
<rect x="353.05" y="265.15" width="2.7" height="2.7" fill="#000"/>
<rect x="368.85" y="265.15" width="2.7" height="2.7" fill="#000"/>
<rect x="384.65" y="265.15" width="2.7" height="2.7" fill="#000"/>
<rect x="400.45" y="265.15" width="2.7" height="2.7" fill="#000"/>
<line x1="330.8" y1="214" x2="330.8" y2="267.75" stroke="#000" stroke-width="1.5"/>
<line x1="327.6" y1="267" x2="410" y2="267" stroke="#000" stroke-width="1.5"/>
<line x1="327.6" y1="215" x2="330.8" y2="215" stroke="#000" stroke-width="1.0"/>
<line x1="327.6" y1="232.33" x2="330.8" y2="232.33" stroke="#000" stroke-width="1.0"/>
<line x1="327.6" y1="249.67" x2="330.8" y2="249.67" stroke="#000" stroke-width="1.0"/>
<line x1="338.6" y1="267" x2="338.6" y2="269.9" stroke="#000" stroke-width="1.1"/>
<text x="340.6" y="283.8" font-size="5.2" font-weight="bold" text-anchor="start" stroke="#000" stroke-width="0.06" transform="rotate(-90 340.6 283.8)">1:10<tspan font-size="3.2" dy="-2.0">1</tspan></text>
<line x1="354.4" y1="267" x2="354.4" y2="269.9" stroke="#000" stroke-width="1.1"/>
<text x="356.4" y="283.8" font-size="5.2" font-weight="bold" text-anchor="start" stroke="#000" stroke-width="0.06" transform="rotate(-90 356.4 283.8)">1:10<tspan font-size="3.2" dy="-2.0">2</tspan></text>
<line x1="370.2" y1="267" x2="370.2" y2="269.9" stroke="#000" stroke-width="1.1"/>
<text x="372.2" y="283.8" font-size="5.2" font-weight="bold" text-anchor="start" stroke="#000" stroke-width="0.06" transform="rotate(-90 372.2 283.8)">1:10<tspan font-size="3.2" dy="-2.0">3</tspan></text>
<line x1="386" y1="267" x2="386" y2="269.9" stroke="#000" stroke-width="1.1"/>
<text x="388" y="283.8" font-size="5.2" font-weight="bold" text-anchor="start" stroke="#000" stroke-width="0.06" transform="rotate(-90 388 283.8)">1:10<tspan font-size="3.2" dy="-2.0">4</tspan></text>
<line x1="401.8" y1="267" x2="401.8" y2="269.9" stroke="#000" stroke-width="1.1"/>
<text x="403.8" y="283.8" font-size="5.2" font-weight="bold" text-anchor="start" stroke="#000" stroke-width="0.06" transform="rotate(-90 403.8 283.8)">1:10<tspan font-size="3.2" dy="-2.0">5</tspan></text>
<text x="321.8" y="244.3" font-size="5.2" font-weight="bold" text-anchor="start" transform="rotate(-90 321.8 244.3)">A<tspan font-size="3.2" dy="1.6">405</tspan></text>
<line x1="335.8" y1="286.6" x2="407.2" y2="286.6" stroke="#000" stroke-width="1.15"/>
<text x="358.2" y="294.3" font-size="6.45" font-weight="bold" text-anchor="start" textLength="24" lengthAdjust="spacingAndGlyphs" stroke="#000" stroke-width="0.15">Dilution</text>
<polyline points="443.5,234.2 459.3,260.8 475,265.2 490.8,265.6 506.5,266.3" fill="none" stroke="#000" stroke-width="1.3" stroke-linejoin="round"/>
<polyline points="443.5,262.8 459.3,266 475,266.5 490.8,266.5 506.5,266.5" fill="none" stroke="#000" stroke-width="1.3" stroke-linejoin="round"/>
<polyline points="443.5,264.4 459.3,266.3 475,266.5 490.8,266.5 506.5,266.5" fill="none" stroke="#000" stroke-width="1.3" stroke-linejoin="round"/>
<polyline points="443.5,266.5 459.3,266.5 475,266.5 490.8,266.5 506.5,266.5" fill="none" stroke="#000" stroke-width="1.3" stroke-linejoin="round"/>
<rect x="442.4" y="233.1" width="2.2" height="2.2" fill="#fff" stroke="#000" stroke-width="0.95"/>
<rect x="458.2" y="259.7" width="2.2" height="2.2" fill="#fff" stroke="#000" stroke-width="0.95"/>
<rect x="473.9" y="264.1" width="2.2" height="2.2" fill="#fff" stroke="#000" stroke-width="0.95"/>
<rect x="489.7" y="264.5" width="2.2" height="2.2" fill="#fff" stroke="#000" stroke-width="0.95"/>
<rect x="505.4" y="265.2" width="2.2" height="2.2" fill="#fff" stroke="#000" stroke-width="0.95"/>
<polygon points="443.5,261.3 442.2,263.8 444.8,263.8" fill="#ddd" stroke="#000" stroke-width="0.8"/>
<polygon points="459.3,264.5 458,267 460.6,267" fill="#ddd" stroke="#000" stroke-width="0.8"/>
<polygon points="475,265 473.7,267.5 476.3,267.5" fill="#ddd" stroke="#000" stroke-width="0.8"/>
<polygon points="490.8,265 489.5,267.5 492.1,267.5" fill="#ddd" stroke="#000" stroke-width="0.8"/>
<polygon points="506.5,265 505.2,267.5 507.8,267.5" fill="#ddd" stroke="#000" stroke-width="0.8"/>
<line x1="442.2" y1="263.1" x2="444.8" y2="265.7" stroke="#000" stroke-width="0.6"/>
<line x1="442.2" y1="265.7" x2="444.8" y2="263.1" stroke="#000" stroke-width="0.6"/>
<line x1="458" y1="265" x2="460.6" y2="267.6" stroke="#000" stroke-width="0.6"/>
<line x1="458" y1="267.6" x2="460.6" y2="265" stroke="#000" stroke-width="0.6"/>
<line x1="473.7" y1="265.2" x2="476.3" y2="267.8" stroke="#000" stroke-width="0.6"/>
<line x1="473.7" y1="267.8" x2="476.3" y2="265.2" stroke="#000" stroke-width="0.6"/>
<line x1="489.5" y1="265.2" x2="492.1" y2="267.8" stroke="#000" stroke-width="0.6"/>
<line x1="489.5" y1="267.8" x2="492.1" y2="265.2" stroke="#000" stroke-width="0.6"/>
<line x1="505.2" y1="265.2" x2="507.8" y2="267.8" stroke="#000" stroke-width="0.6"/>
<line x1="505.2" y1="267.8" x2="507.8" y2="265.2" stroke="#000" stroke-width="0.6"/>
<circle cx="443.5" cy="266.5" r="1.4" fill="#000"/>
<circle cx="459.3" cy="266.5" r="1.4" fill="#000"/>
<circle cx="475" cy="266.5" r="1.4" fill="#000"/>
<circle cx="490.8" cy="266.5" r="1.4" fill="#000"/>
<circle cx="506.5" cy="266.5" r="1.4" fill="#000"/>
<line x1="435.5" y1="214" x2="435.5" y2="267.75" stroke="#000" stroke-width="1.5"/>
<line x1="432.3" y1="267" x2="514.5" y2="267" stroke="#000" stroke-width="1.5"/>
<line x1="432.3" y1="215" x2="435.5" y2="215" stroke="#000" stroke-width="1.0"/>
<line x1="432.3" y1="232.33" x2="435.5" y2="232.33" stroke="#000" stroke-width="1.0"/>
<line x1="432.3" y1="249.67" x2="435.5" y2="249.67" stroke="#000" stroke-width="1.0"/>
<line x1="443.5" y1="267" x2="443.5" y2="269.9" stroke="#000" stroke-width="1.1"/>
<text x="445.5" y="283.8" font-size="5.2" font-weight="bold" text-anchor="start" stroke="#000" stroke-width="0.06" transform="rotate(-90 445.5 283.8)">1:10<tspan font-size="3.2" dy="-2.0">1</tspan></text>
<line x1="459.3" y1="267" x2="459.3" y2="269.9" stroke="#000" stroke-width="1.1"/>
<text x="461.3" y="283.8" font-size="5.2" font-weight="bold" text-anchor="start" stroke="#000" stroke-width="0.06" transform="rotate(-90 461.3 283.8)">1:10<tspan font-size="3.2" dy="-2.0">2</tspan></text>
<line x1="475" y1="267" x2="475" y2="269.9" stroke="#000" stroke-width="1.1"/>
<text x="477" y="283.8" font-size="5.2" font-weight="bold" text-anchor="start" stroke="#000" stroke-width="0.06" transform="rotate(-90 477 283.8)">1:10<tspan font-size="3.2" dy="-2.0">3</tspan></text>
<line x1="490.8" y1="267" x2="490.8" y2="269.9" stroke="#000" stroke-width="1.1"/>
<text x="492.8" y="283.8" font-size="5.2" font-weight="bold" text-anchor="start" stroke="#000" stroke-width="0.06" transform="rotate(-90 492.8 283.8)">1:10<tspan font-size="3.2" dy="-2.0">4</tspan></text>
<line x1="506.5" y1="267" x2="506.5" y2="269.9" stroke="#000" stroke-width="1.1"/>
<text x="508.5" y="283.8" font-size="5.2" font-weight="bold" text-anchor="start" stroke="#000" stroke-width="0.06" transform="rotate(-90 508.5 283.8)">1:10<tspan font-size="3.2" dy="-2.0">5</tspan></text>
<text x="425.9" y="244.3" font-size="5.2" font-weight="bold" text-anchor="start" transform="rotate(-90 425.9 244.3)">A<tspan font-size="3.2" dy="1.6">405</tspan></text>
<line x1="440.6" y1="286.6" x2="511.3" y2="286.6" stroke="#000" stroke-width="1.15"/>
<text x="462.3" y="294.3" font-size="6.45" font-weight="bold" text-anchor="start" textLength="24" lengthAdjust="spacingAndGlyphs" stroke="#000" stroke-width="0.15">Dilution</text>
<rect x="476.55" y="264.55" width="2.7" height="2.7" fill="#000"/>
<rect x="479.45" y="264.55" width="2.7" height="2.7" fill="#000"/>
<rect x="482.35" y="264.55" width="2.7" height="2.7" fill="#000"/>
<rect x="485.25" y="264.55" width="2.7" height="2.7" fill="#000"/>
<rect x="488.15" y="264.55" width="2.7" height="2.7" fill="#000"/>
<line x1="18.8" y1="299.75" x2="410.5" y2="299.75" stroke="#000" stroke-width="1.15"/>
<line x1="429.5" y1="299.75" x2="515.5" y2="299.75" stroke="#000" stroke-width="1.15"/>
<polygon points="161.4,308.1 158.4,313.4 164.4,313.4" fill="#fff" stroke="#666" stroke-width="0.75"/>
<text x="170" y="313" font-size="6.35" font-weight="bold" text-anchor="start" textLength="16.2" lengthAdjust="spacingAndGlyphs" stroke="#000" stroke-width="0.15">CD27</text>
<text x="187.3" y="309.8" font-size="4.6" font-weight="bold" text-anchor="start" stroke="#000" stroke-width="0.3">+</text>
<text x="192" y="313" font-size="6.35" font-weight="bold" text-anchor="start" textLength="16.1" lengthAdjust="spacingAndGlyphs" stroke="#000" stroke-width="0.15">CD21</text>
<text x="208.7" y="310.1" font-size="4.8" font-weight="bold" text-anchor="start" stroke="#000" stroke-width="0.15">lo</text>
<rect x="158.85" y="320.1" width="5.0" height="4.8" fill="#fff" stroke="#000" stroke-width="1.3"/>
<text x="170" y="325" font-size="6.35" font-weight="bold" text-anchor="start" textLength="16.2" lengthAdjust="spacingAndGlyphs" stroke="#000" stroke-width="0.15">CD27</text>
<text x="187.3" y="321.8" font-size="4.6" font-weight="bold" text-anchor="start" stroke="#000" stroke-width="0.3">+</text>
<text x="192" y="325" font-size="6.35" font-weight="bold" text-anchor="start" textLength="16.1" lengthAdjust="spacingAndGlyphs" stroke="#000" stroke-width="0.15">CD21</text>
<text x="208.7" y="322.1" font-size="4.8" font-weight="bold" text-anchor="start" stroke="#000" stroke-width="0.15">hi</text>
<polygon points="229.4,307.2 225.8,313.0 233.0,313.0" fill="#000"/>
<text x="237.8" y="313" font-size="6.35" font-weight="bold" text-anchor="start" textLength="16.2" lengthAdjust="spacingAndGlyphs" stroke="#000" stroke-width="0.15">CD27</text>
<text x="255.1" y="308" font-size="5.2" font-weight="bold" text-anchor="start" stroke="#000" stroke-width="0.3">-</text>
<text x="259.8" y="313" font-size="6.35" font-weight="bold" text-anchor="start" textLength="16.1" lengthAdjust="spacingAndGlyphs" stroke="#000" stroke-width="0.15">CD21</text>
<text x="276.5" y="310.1" font-size="4.8" font-weight="bold" text-anchor="start" stroke="#000" stroke-width="0.15">lo</text>
<rect x="226.5" y="319.2" width="6.3" height="6.8" fill="#000"/>
<text x="237.8" y="325" font-size="6.35" font-weight="bold" text-anchor="start" textLength="16.2" lengthAdjust="spacingAndGlyphs" stroke="#000" stroke-width="0.15">CD27</text>
<text x="255.1" y="320" font-size="5.2" font-weight="bold" text-anchor="start" stroke="#000" stroke-width="0.3">-</text>
<text x="259.8" y="325" font-size="6.35" font-weight="bold" text-anchor="start" textLength="16.1" lengthAdjust="spacingAndGlyphs" stroke="#000" stroke-width="0.15">CD21</text>
<text x="276.5" y="322.1" font-size="4.8" font-weight="bold" text-anchor="start" stroke="#000" stroke-width="0.15">hi</text>
<polygon points="431.4,306.6 428.4,311.9 434.4,311.9" fill="#fff" stroke="#666" stroke-width="0.75"/>
<text x="440" y="311.3" font-size="6.35" font-weight="bold" text-anchor="start" textLength="16.2" lengthAdjust="spacingAndGlyphs" stroke="#000" stroke-width="0.15">CD27</text>
<text x="457.3" y="308.1" font-size="4.6" font-weight="bold" text-anchor="start" stroke="#000" stroke-width="0.3">+</text>
<text x="462" y="311.3" font-size="6.35" font-weight="bold" text-anchor="start" textLength="16.1" lengthAdjust="spacingAndGlyphs" stroke="#000" stroke-width="0.15">CD21</text>
<text x="478.7" y="308.4" font-size="4.8" font-weight="bold" text-anchor="start" stroke="#000" stroke-width="0.15">lo</text>
<rect x="428.85" y="318.75" width="5.0" height="4.5" fill="#fff" stroke="#000" stroke-width="1.3"/>
<text x="440" y="323.3" font-size="6.35" font-weight="bold" text-anchor="start" textLength="16.2" lengthAdjust="spacingAndGlyphs" stroke="#000" stroke-width="0.15">CD27</text>
<text x="457.3" y="320.1" font-size="4.6" font-weight="bold" text-anchor="start" stroke="#000" stroke-width="0.3">+</text>
<text x="462" y="323.3" font-size="6.35" font-weight="bold" text-anchor="start" textLength="16.1" lengthAdjust="spacingAndGlyphs" stroke="#000" stroke-width="0.15">CD21</text>
<text x="478.7" y="320.4" font-size="4.8" font-weight="bold" text-anchor="start" stroke="#000" stroke-width="0.15">hi</text>
<circle cx="491.6" cy="309.15" r="3.3" fill="#000"/>
<text x="500.8" y="311.3" font-size="6.35" font-weight="bold" text-anchor="start"><tspan textLength="16.4" lengthAdjust="spacingAndGlyphs">CD27</tspan></text>
<text x="518" y="306.6" font-size="5.2" font-weight="bold" text-anchor="start" stroke="#000" stroke-width="0.3">-</text>
<text x="489.2" y="323.5" font-size="7.6" font-weight="normal" text-anchor="start" textLength="5.1" lengthAdjust="spacingAndGlyphs" stroke="#000" stroke-width="0.25">X</text>
<text x="500.8" y="323.3" font-size="6.35" font-weight="bold" text-anchor="start"><tspan textLength="8.2" lengthAdjust="spacingAndGlyphs">G6</tspan></text>
<text x="510" y="318.0" font-size="5.2" font-weight="bold" text-anchor="start" stroke="#000" stroke-width="0.3">-</text>
</svg>
</body></html>
